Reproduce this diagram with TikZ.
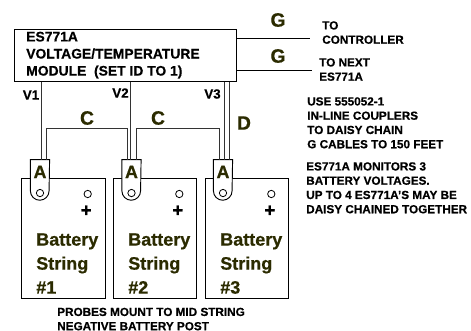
\documentclass[tikz,border=0pt]{standalone}
\usepackage{fontspec}
\setmainfont{Liberation Sans}[BoldFeatures={FakeBold=0.6}]
\definecolor{olive}{HTML}{2B2B00}
\tikzset{
  note/.style={anchor=north west,align=left,inner sep=0pt,font=\bfseries\fontsize{8.8}{10.7}\selectfont},
  cable/.style={inner sep=0pt,text=olive,font=\bfseries\fontsize{14.5}{16}\selectfont},
  volt/.style={inner sep=0pt,font=\bfseries\fontsize{10}{12}\selectfont},
  battery/.style={draw,line width=0.7pt,minimum width=62.5pt,minimum height=90pt,inner sep=0pt},
  label/.style={anchor=north west,align=left,inner sep=0pt,text=olive,font=\bfseries\fontsize{13.5}{18}\selectfont},
  lug/.style={minimum width=14pt,minimum height=23pt,inner sep=0pt,text=olive,font=\bfseries\fontsize{13.5}{14}\selectfont},
  post/.style={draw,circle,line width=0.6pt,minimum size=5.5pt,inner sep=0pt},
  wire/.style={line width=0.7pt,draw=black!80}
}
\begin{document}
\begin{tikzpicture}[x=0.75pt,y=-0.75pt]
  \useasboundingbox (0,0) rectangle (471,331);
  % module
  \node[draw,line width=0.8pt,minimum width=166.5pt,minimum height=39pt,inner sep=0pt] (module) at (125.3,55.3) {};
  \node[anchor=north west,align=left,inner sep=0pt,font=\bfseries\fontsize{10.4}{12.8}\selectfont] (moduletext) at (26,31.5)
    {ES771A\\VOLTAGE/TEMPERATURE\\MODULE\ \ (SET ID TO 1)};
  % batteries
  \node[battery] (bat1) at (63.5,238) {};
  \node[battery] (bat2) at (155,238) {};
  \node[battery] (bat3) at (247,238) {};
  \node[label] (text1) at (36,233) {Battery\\String\\\#1};
  \node[label] (text2) at (128,233) {Battery\\String\\\#2};
  \node[label] (text3) at (220,233) {Battery\\String\\\#3};
  % posts
  \foreach \n/\x in {1/87.7,2/179.3,3/271.3}
  {
    \node[post] (pos\n) at (\x,194) {};
    \node[inner sep=0pt,font=\bfseries\fontsize{14}{16}\selectfont] (plus\n) at (\x-1.5,211) {+};
  }
  % probes
  \node[lug] (a1) at (40,175.3) {};
  \node[lug] (a2) at (131.5,175.3) {};
  \node[lug] (a3) at (223,175.3) {};
  \foreach \n in {1,2,3}
  {
    \draw[fill=white,line width=0.7pt] (a\n.north west) -- (a\n.south west)
      arc[start angle=180,end angle=360,radius=7pt] -- (a\n.north east) -- cycle;
    \node[lug,minimum height=0pt] (letter\n) at ([yshift=2.5pt]a\n.center) {A};
    \node[post] (hole\n) at ([yshift=-13.3pt]a\n.center) {};
  }
  % wires
  \draw[wire] ([xshift=1.25pt]a1.north) -- ([xshift=1.25pt]a1.north |- module.south);
  \draw[wire] ([xshift=-0.5pt]a2.north) -- ([xshift=-0.5pt]a2.north |- module.south);
  \draw[wire] ([xshift=0.75pt]a3.north) -- ([xshift=0.75pt]a3.north |- module.south);
  \draw[wire] ([xshift=4.5pt]a3.north) -- ([xshift=4.5pt]a3.north |- module.south);
  \draw[wire] ([xshift=4.5pt]a1.north) -- ++(0,-31) -| ([xshift=-3.4pt]a2.north);
  \draw[wire] ([xshift=3.4pt]a2.north) -- ++(0,-31) -| ([xshift=-3pt]a3.north);
  % cable to the right
  \coordinate (gend1) at (310,38);
  \coordinate (gend2) at (312,70);
  \draw[line width=0.7pt] (module.east |- gend1) -- (gend1);
  \draw[line width=0.7pt] (module.east |- gend2) -- (gend2);
  % labels
  \node[volt] (v1) at (31,95) {V1};
  \node[volt] (v2) at (120.5,93) {V2};
  \node[volt] (v3) at (212.5,94) {V3};
  \node[cable] (c1) at (87,118) {C};
  \node[cable] (c2) at (158,118) {C};
  \node[cable] (d) at (244,123) {D};
  \node[cable] (g1) at (278,20) {G};
  \node[cable] (g2) at (278,56) {G};
  \node[note] (tocontroller) at (322,21) {TO\\CONTROLLER};
  \node[note] (tonext) at (319,58) {TO NEXT\\ES771A};
  \node[note] (couplers) at (307,97) {USE 555052-1\\IN-LINE COUPLERS\\TO DAISY CHAIN\\G CABLES TO 150 FEET};
  \node[note] (monitors) at (306,162) {ES771A MONITORS 3\\BATTERY VOLTAGES.\\UP TO 4 ES771A'S MAY BE\\DAISY CHAINED TOGETHER};
  \node[note] (probes) at (57,307.5) {PROBES MOUNT TO MID STRING\\NEGATIVE BATTERY POST};
\end{tikzpicture}
\end{document}
